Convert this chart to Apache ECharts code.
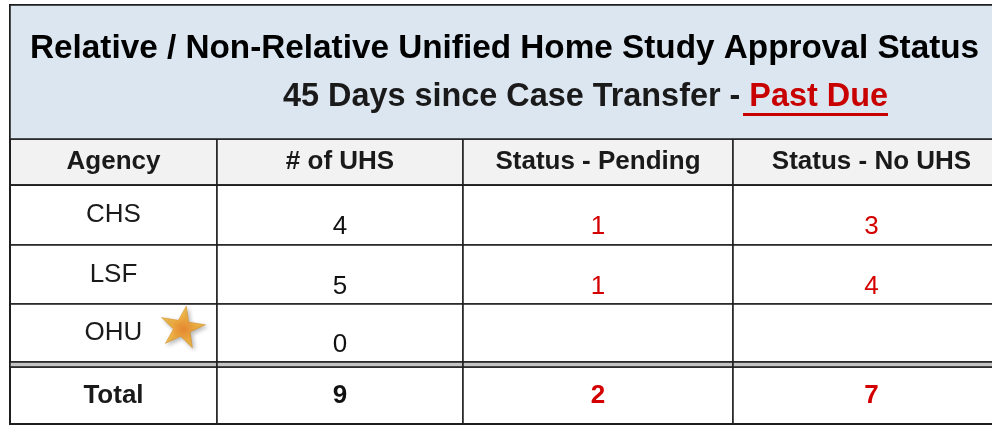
<!DOCTYPE html>
<html>
<head>
<meta charset="utf-8">
<script src="https://cdn.jsdelivr.net/npm/echarts@6.0.0/dist/echarts.min.js"></script>
<style>
  html, body { margin: 0; padding: 0; background: #fff; }
  #main { width: 992px; height: 425px; }
</style>
</head>
<body>
<div id="main"></div>
<script>
// table content
const titleText = 'Relative / Non-Relative Unified Home Study Approval Status';
const subtitleText = '45 Days since Case Transfer - ';
const subtitleFlag = 'Past Due';
const columns = ['Agency', '# of UHS', 'Status - Pending', 'Status - No UHS'];
const agencies = ['CHS', 'LSF', 'OHU'];
const uhsCount = [4, 5, 0];
const pendingCount = [1, 1, null];
const noUhsCount = [3, 4, null];
const totalLabel = 'Total';
const totalRow = [9, 2, 7];
const starredAgency = 'OHU';

// layout
const FONT = '"Liberation Sans", Arial, sans-serif';
const colWidths = [207, 246, 270, 277];
const rowHeights = [60, 59, 58];
const gapRow = '__gap';
const RED = '#d40000';
const LINE = '#1e1e1e';

const chart = echarts.init(document.getElementById('main'));

// counts sit a little low in their rows (empty first line), totals are centred and bold
const numCell = (v, color, bold) => ({
  value: v == null ? '' : (bold ? String(v) : '\n' + v),
  label: { color: color, fontWeight: bold ? 'bold' : 'normal', lineHeight: bold ? 30 : 24 }
});

const bodyData = [];
agencies.forEach((a, i) => {
  bodyData.push({ coord: [columns[0], a], value: a });
  bodyData.push(Object.assign({ coord: [columns[1], a] }, numCell(uhsCount[i], '#111')));
  bodyData.push(Object.assign({ coord: [columns[2], a] }, numCell(pendingCount[i], RED)));
  bodyData.push(Object.assign({ coord: [columns[3], a] }, numCell(noUhsCount[i], RED)));
});
columns.forEach(c => {
  bodyData.push({ coord: [c, gapRow], value: '', itemStyle: { color: '#c4c4c4' } });
});
bodyData.push({ coord: [columns[0], totalLabel], value: totalLabel, label: { fontWeight: 'bold' } });
totalRow.forEach((v, i) => {
  bodyData.push(Object.assign({ coord: [columns[i + 1], totalLabel] }, numCell(v, i === 0 ? '#111' : RED, true)));
});

// five point star outline for the marker next to the starred agency
function starPath(rot) {
  const pts = [];
  for (let k = 0; k < 10; k++) {
    const r = k % 2 === 0 ? 1 : 0.38;
    const ang = (rot + k * 36 - 90) * Math.PI / 180;
    pts.push((50 + 50 * r * Math.cos(ang)).toFixed(1) + ' ' + (50 + 50 * r * Math.sin(ang)).toFixed(1));
  }
  return 'path://M' + pts.join(' L') + ' Z';
}

const option = {
  title: [{
    text: titleText,
    left: 30,
    top: 32,
    padding: 0,
    textStyle: { fontSize: 33.3, fontWeight: 'bold', color: '#000', fontFamily: FONT }
  }, {
    text: '{s|' + subtitleText + '}{r|' + subtitleFlag + '}',
    left: 283,
    top: 81,
    padding: 0,
    textStyle: {
      rich: {
        s: { fontSize: 32.4, color: '#1a1a1a', fontFamily: FONT },
        r: { fontSize: 32.4, fontWeight: 'bold', color: '#c80000', fontFamily: FONT }
      }
    }
  }],
  matrix: {
    left: 10,
    top: 5,
    width: 1000,
    height: 419,
    backgroundStyle: { color: '#fff', borderColor: LINE, borderWidth: 2 },
    x: {
      levels: [{ levelSize: 134 }, { levelSize: 46 }],
      itemStyle: { color: '#f2f2f2', borderColor: LINE, borderWidth: 1.5 },
      label: { fontSize: 26, fontWeight: 'bold', fontFamily: FONT, color: '#1a1a1a', overflow: 'none' },
      dividerLineStyle: { color: LINE, width: 1.5 },
      data: [{
        value: 'title',
        itemStyle: { color: '#dce6f1', borderColor: LINE, borderWidth: 1.5 },
        label: { show: false },
        children: columns.map((c, i) => ({ value: c, size: colWidths[i] }))
      }]
    },
    y: {
      show: false,
      data: agencies.map((a, i) => ({ value: a, size: rowHeights[i] }))
        .concat([{ value: gapRow, size: 5 }, { value: totalLabel }])
    },
    body: {
      itemStyle: { color: '#fff', borderColor: LINE, borderWidth: 1.5 },
      label: { fontSize: 26, fontFamily: FONT, color: '#1a1a1a', overflow: 'none' },
      data: bodyData
    }
  },
  series: [{
    type: 'scatter',
    coordinateSystem: 'matrix',
    symbol: starPath(10),
    symbolSize: [44, 42],
    symbolOffset: [70, -6],
    itemStyle: {
      color: new echarts.graphic.RadialGradient(0.5, 0.55, 0.6, [
        { offset: 0, color: '#f07a10' },
        { offset: 0.45, color: '#f6a51e' },
        { offset: 1, color: '#e9b52c' }
      ]),
      borderColor: '#c77a10',
      borderWidth: 0.5,
      shadowBlur: 4,
      shadowColor: 'rgba(0,0,0,0.35)',
      shadowOffsetX: 2,
      shadowOffsetY: 2
    },
    data: [[columns[0], starredAgency]]
  }],
  graphic: [{
    type: 'rect',
    z: 10,
    shape: { x: 743, y: 113, width: 145, height: 3 },
    style: { fill: '#c80000' }
  }]
};

chart.setOption(option);
</script>
</body>
</html>
